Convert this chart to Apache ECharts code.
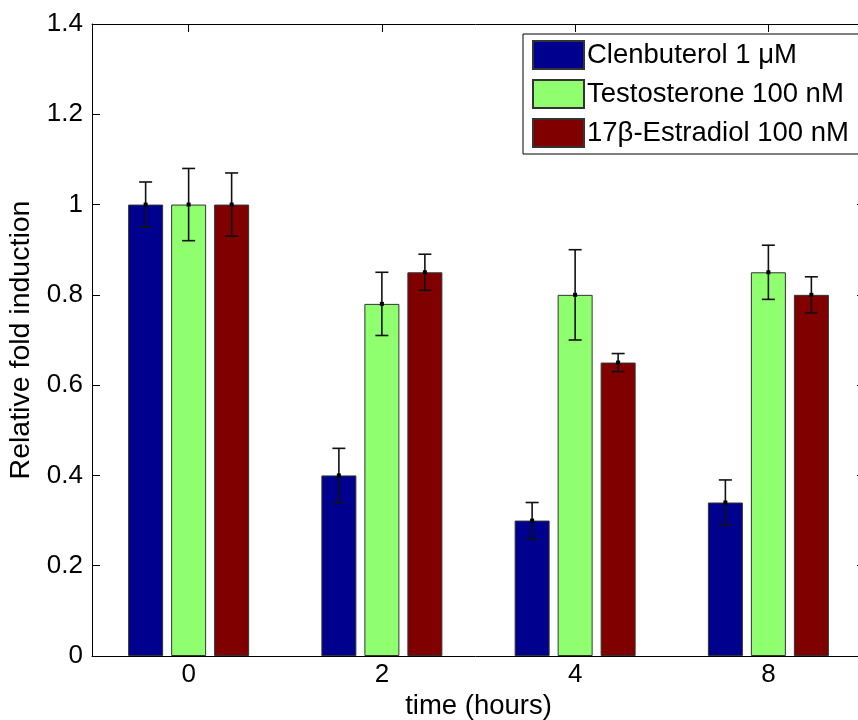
<!DOCTYPE html>
<html>
<head>
<meta charset="utf-8">
<script src="https://cdn.jsdelivr.net/npm/echarts@6/dist/echarts.min.js"></script>
<style>
html,body{margin:0;padding:0;background:#fff;}
#chart{width:858px;height:720px;}
</style>
</head>
<body>
<div id="chart"></div>
<script>
// ---- data ----
const categories = ['0', '2', '4', '8'];
const seriesNames = ['Clenbuterol 1 \u03BCM', 'Testosterone 100 nM', '17\u03B2-Estradiol 100 nM'];
const clenMean = [1.00, 0.40, 0.30, 0.34];
const clenErr  = [0.05, 0.06, 0.04, 0.05];
const testoMean = [1.00, 0.78, 0.80, 0.85];
const testoErr  = [0.08, 0.07, 0.10, 0.06];
const estraMean = [1.00, 0.85, 0.65, 0.80];
const estraErr  = [0.07, 0.04, 0.02, 0.04];
const yTicks = [0, 0.2, 0.4, 0.6, 0.8, 1, 1.2, 1.4];

// ---- style ----
const colors = ['#00008F', '#8FFF70', '#800000'];
const FONT = 'Liberation Sans, Arial, Helvetica, sans-serif';
const FS = 26;
const BAR_W = 35;
const BAR_GAP = 8;

const means = [clenMean, testoMean, estraMean];
const errs = [clenErr, testoErr, estraErr];

const chart = echarts.init(document.getElementById('chart'), null, {renderer: 'canvas'});

function errRenderer(k) {
  return function (params, api) {
    const c = api.value(0);
    const lo = api.value(1), hi = api.value(2), m = api.value(3);
    const pLo = api.coord([c, lo]);
    const pHi = api.coord([c, hi]);
    const pM = api.coord([c, m]);
    const x = pLo[0] + (k - 1) * (BAR_W + BAR_GAP);
    const cap = 6.5;
    const st = {stroke: '#111', lineWidth: 1.6};
    return {
      type: 'group',
      children: [
        {type: 'line', shape: {x1: x, y1: pHi[1], x2: x, y2: pLo[1]}, style: st},
        {type: 'line', shape: {x1: x - cap, y1: pHi[1], x2: x + cap, y2: pHi[1]}, style: st},
        {type: 'line', shape: {x1: x - cap, y1: pLo[1], x2: x + cap, y2: pLo[1]}, style: st},
        {type: 'rect', shape: {x: x - 2, y: pM[1] - 2, width: 4, height: 4}, style: {fill: '#000'}}
      ]
    };
  };
}

const series = [];
for (let k = 0; k < 3; k++) {
  series.push({
    name: seriesNames[k],
    type: 'bar',
    xAxisIndex: 0,
    yAxisIndex: 0,
    data: means[k],
    barWidth: BAR_W,
    barGap: (BAR_GAP / BAR_W * 100) + '%',
    itemStyle: {color: colors[k], borderColor: '#333', borderWidth: 1},
    emphasis: {disabled: true},
    z: 2
  });
}
for (let k = 0; k < 3; k++) {
  series.push({
    type: 'custom',
    xAxisIndex: 0,
    yAxisIndex: 0,
    renderItem: errRenderer(k),
    data: categories.map((c, i) => [i, means[k][i] - errs[k][i], means[k][i] + errs[k][i], means[k][i]]),
    z: 5,
    silent: true
  });
}

const axisLineStyle = {color: '#000', width: 1};

chart.setOption({
  animation: false,
  backgroundColor: '#fff',
  textStyle: {fontFamily: FONT},
  grid: {left: 92, top: 24, width: 773, bottom: 64, containLabel: false, outerBoundsMode: 'none'},
  legend: {
    data: seriesNames,
    orient: 'vertical',
    left: 523,
    top: 34,
    align: 'left',
    itemWidth: 51,
    itemHeight: 28,
    itemGap: 9,
    padding: [6, 14, 6, 9],
    backgroundColor: '#fff',
    borderColor: '#000',
    borderWidth: 1,
    borderRadius: 0,
    icon: 'rect',
    textStyle: {fontSize: 27.5, color: '#000', fontFamily: FONT, padding: [0, 0, 0, -2]},
    selectedMode: false
  },
  xAxis: [
    {
      type: 'category',
      data: categories,
      position: 'bottom',
      name: 'time (hours)',
      nameLocation: 'middle',
      nameGap: 32,
      nameTextStyle: {fontSize: 27.5, color: '#000', fontFamily: FONT},
      axisLine: {show: true, onZero: false, lineStyle: axisLineStyle},
      axisTick: {show: true, inside: true, alignWithLabel: true, length: 8, lineStyle: axisLineStyle},
      axisLabel: {fontSize: FS, color: '#000', margin: 6, fontFamily: FONT},
      splitLine: {show: false}
    },
    {
      type: 'category',
      data: categories,
      position: 'top',
      axisLine: {show: true, onZero: false, lineStyle: axisLineStyle},
      axisTick: {show: true, inside: true, alignWithLabel: true, length: 8, lineStyle: axisLineStyle},
      axisLabel: {show: false},
      splitLine: {show: false}
    }
  ],
  yAxis: [
    {
      type: 'value',
      min: yTicks[0],
      max: yTicks[yTicks.length - 1],
      interval: yTicks[1] - yTicks[0],
      position: 'left',
      name: 'Relative fold induction',
      nameLocation: 'middle',
      nameGap: 54,
      nameTextStyle: {fontSize: 28.5, color: '#000', fontFamily: FONT},
      axisLine: {show: true, lineStyle: axisLineStyle},
      axisTick: {show: true, inside: true, length: 8, lineStyle: axisLineStyle},
      axisLabel: {fontSize: FS, color: '#000', margin: 9, fontFamily: FONT},
      splitLine: {show: false}
    },
    {
      type: 'value',
      min: yTicks[0],
      max: yTicks[yTicks.length - 1],
      interval: yTicks[1] - yTicks[0],
      position: 'right',
      axisLine: {show: true, lineStyle: axisLineStyle},
      axisTick: {show: true, inside: true, length: 8, lineStyle: axisLineStyle},
      axisLabel: {show: false},
      splitLine: {show: false}
    }
  ],
  series: series
});
</script>
</body>
</html>
